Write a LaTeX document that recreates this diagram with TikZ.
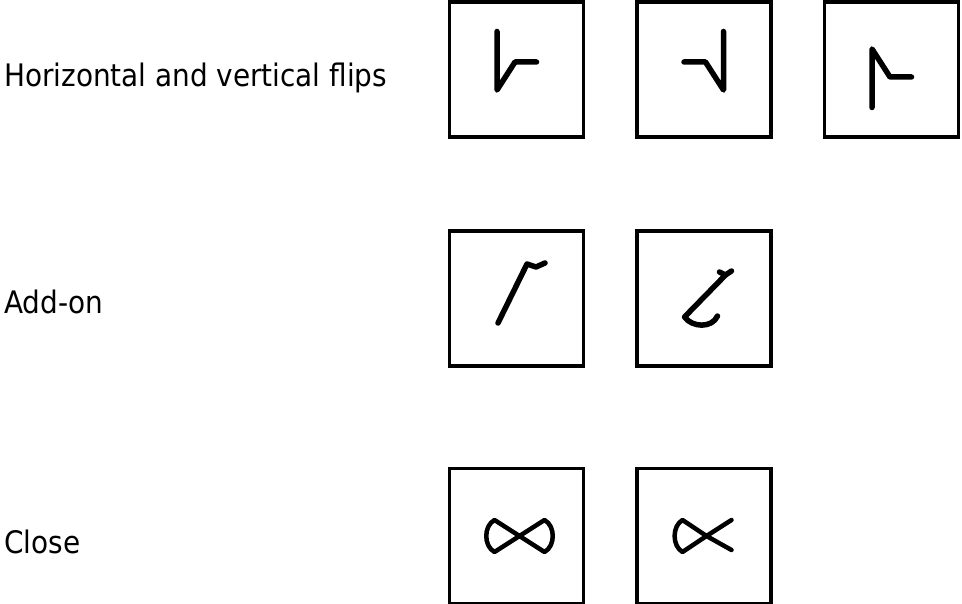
\documentclass[tikz,border=0pt]{standalone}
\usepackage{fontspec}
\setmainfont{DejaVu Sans Condensed}
\usepackage{tikz}
\usetikzlibrary{positioning}

% the little strokes inside the tiles, drawn round the tile centre
\newcommand{\flipstroke}{(-19.5,-38) -- (-19.5,20.5) -- (-1.5,-7.5) -- (20,-7.5)}

\begin{document}
\begin{tikzpicture}[x=1pt, y=-1pt, node distance=50pt,
        tile/.style={rectangle, draw, line width=3.5pt, minimum width=134pt, minimum height=135pt, inner sep=0pt},
        rowlabel/.style={anchor=base west, inner sep=0pt, font=\fontsize{31}{36}\selectfont},
        glyph/.style={line width=5.5pt, line join=round, line cap=round}]
        \useasboundingbox (0,0) rectangle (962,604);

        \node[rowlabel] (fliplbl) at (4,87) {Horizontal and vertical flips};
        \node[rowlabel] (addlbl) at (4,313) {Add-on};
        \node[rowlabel] (closelbl) at (4,553) {Close};

        \node[tile] (flipa) at (516.5,69.5) {};
        \node[tile, right=of flipa] (flipb) {};
        \node[tile, right=of flipb] (flipc) {};

        \node[tile] (adda) at (516.5,298.5) {};
        \node[tile, right=of adda] (addb) {};

        \node[tile] (closea) at (516.5,536) {};
        \node[tile, right=of closea] (closeb) {};

        % flips
        \draw[glyph, shift={(flipa.center)}] \flipstroke;
        \draw[glyph, shift={(flipb.center)}, xscale=-1] \flipstroke;
        \draw[glyph, shift={(flipc.center)}, yscale=-1] \flipstroke;

        % add-on
        \draw[glyph, shift={(adda.center)}] (-18.5,24.5) -- (10.5,-34.5) -- (19.5,-31.5) -- (28.5,-35.5);
        \draw[glyph, shift={(addb.center)}] (15.5,-26.5) -- (21.5,-23.5) -- (27.5,-27.5);
        \draw[glyph, shift={(addb.center)}] (21.5,-23.5) -- (-19.5,18.5) .. controls (-12,29) and (8,30) .. (13.5,17.5);

        % close
        \draw[glyph, line width=4.5pt, shift={(closea.center)}] (3,0) -- (28,-16) .. controls (39,-10) and (39,10) .. (28,16) -- (3,0)
            -- (-22,-16) .. controls (-33,-10) and (-33,10) .. (-22,16) -- cycle;
        \draw[glyph, line width=4.5pt, shift={(closeb.center)}] (27.5,-16) -- (2.5,0) -- (-21.5,-16) .. controls (-32,-10) and (-32,10) .. (-21.5,16) -- (2.5,0) -- (27.5,14);
    \end{tikzpicture}
\end{document}
